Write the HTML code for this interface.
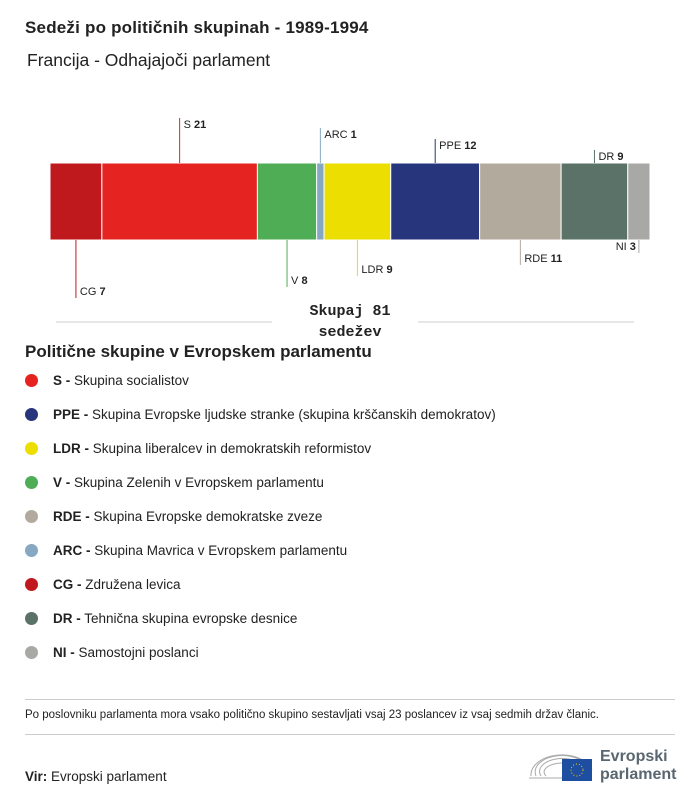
<!DOCTYPE html>
<html><head><meta charset="utf-8"><style>
body{margin:0;width:700px;height:802px;background:#fff;font-family:"Liberation Sans",sans-serif;color:#222;position:relative;overflow:hidden}
.a{position:absolute;white-space:nowrap}
</style></head><body>
<div class="a" style="left:25px;top:18px;font-size:17px;font-weight:bold;letter-spacing:0.2px">Sedeži po političnih skupinah - 1989-1994</div>
<div class="a" style="left:27px;top:50px;font-size:17.5px">Francija - Odhajajoči parlament</div>
<svg id="chart" width="700" height="345" style="position:absolute;left:0;top:0" font-family="Liberation Sans, sans-serif" font-size="11"></svg>
<div class="a" style="left:300px;top:301px;width:100px;text-align:center;font-family:'Liberation Mono',monospace;font-weight:bold;font-size:15px;line-height:21px;white-space:normal">Skupaj 81 sedežev</div>
<div class="a" style="left:25px;top:342px;font-size:17px;font-weight:bold">Politične skupine v Evropskem parlamentu</div>
<div id="legend"></div>
<div class="a" style="left:25px;top:699px;width:650px;border-top:1px solid #ccc"></div>
<div class="a" style="left:25px;top:709px;font-size:11.5px">Po poslovniku parlamenta mora vsako politično skupino sestavljati vsaj 23 poslancev iz vsaj sedmih držav članic.</div>
<div class="a" style="left:25px;top:734px;width:650px;border-top:1px solid #ccc"></div>
<div class="a" style="left:25px;top:769px;font-size:13.5px"><b>Vir:</b> Evropski parlament</div>
<svg class="a" style="left:528px;top:742px" width="150" height="42">
<g fill="none" stroke="#aaa" stroke-width="1"><path d="M3 34 A31 20 0 0 1 64 28"/><path d="M8 34 A26 16 0 0 1 60 26"/><path d="M13 34 A21 12 0 0 1 56 25"/><path d="M18 34 A16 8 0 0 1 50 26"/><path d="M1 36 H34"/></g>
<rect x="34" y="17" width="30" height="22" fill="#1d4ea0"/><circle cx="49" cy="28" r="6" fill="none" stroke="#fc0" stroke-width="1" stroke-dasharray="1 2"/>
<text x="72" y="19" font-size="16" font-weight="bold" fill="#5a6770" font-family="Liberation Sans">Evropski</text>
<text x="72" y="37" font-size="16" font-weight="bold" fill="#5a6770" font-family="Liberation Sans">parlament</text></svg>
<script>
const groups=["CG","S","V","ARC","LDR","PPE","RDE","DR","NI"];
const seats=[7,21,8,1,9,12,11,9,3];
const colors=["#c0191d","#e52421","#4fae55","#86a8c2","#ebde00","#27357d","#b3aa9e","#5a7267","#a8a8a6"];
const labelY=[291,124,280,134,269,145,258,156,246];
const above=[false,true,false,true,false,true,false,true,false];
const ns="http://www.w3.org/2000/svg",svg=document.getElementById('chart');
const total=seats.reduce((a,b)=>a+b,0),x0=50,W=600,top_=163,bot=240;
const sx=v=>x0+v/total*W;
function mk(t,a){const e=document.createElementNS(ns,t);for(const k in a)e.setAttribute(k,a[k]);svg.appendChild(e);return e;}
let c=0;
seats.forEach((s,i)=>{
 const x=sx(c),w=sx(c+s)-x;c+=s;
 const r=mk('rect',{x:x,y:top_,width:w,height:bot-top_,fill:colors[i],stroke:'#fff','stroke-width':1});
 
 
 const cx=x+w/2,last=i==seats.length-1;
 const ly=labelY[i];
 const ln=above[i]?mk('line',{x1:cx,x2:cx,y1:ly-6,y2:top_,stroke:colors[i]}):mk('line',{x1:cx,x2:cx,y1:bot,y2:ly+7,stroke:colors[i]});
 
 
 const t=mk('text',{x:last?cx-3:cx+4,y:ly+4,'text-anchor':last?'end':'start',fill:'#222'});
 t.innerHTML=groups[i]+' <tspan font-weight="bold">'+s+'</tspan>';
 
 
});
const l1=mk('line',{x1:56,x2:272,y1:322,y2:322,stroke:'#ccc'});

const l2=mk('line',{x1:418,x2:634,y1:322,y2:322,stroke:'#ccc'});

const legAbbr=["S","PPE","LDR","V","RDE","ARC","CG","DR","NI"];
const legText=["Skupina socialistov","Skupina Evropske ljudske stranke (skupina krščanskih demokratov)","Skupina liberalcev in demokratskih reformistov","Skupina Zelenih v Evropskem parlamentu","Skupina Evropske demokratske zveze","Skupina Mavrica v Evropskem parlamentu","Združena levica","Tehnična skupina evropske desnice","Samostojni poslanci"];
const leg=document.getElementById('legend');
legAbbr.forEach((a,i)=>{
 const d=document.createElement('div');d.className='a';
 d.style.cssText='left:25px;top:'+(373+i*34)+'px;font-size:13.5px;line-height:16px';
 
 
 d.innerHTML='<span style="display:inline-block;width:13px;height:13px;border-radius:50%;background:'+colors[groups.indexOf(a)]+';vertical-align:-2px;margin-right:15px"></span><b>'+a+' -</b> '+legText[i];
 leg.appendChild(d);
});
</script>
</body></html>
